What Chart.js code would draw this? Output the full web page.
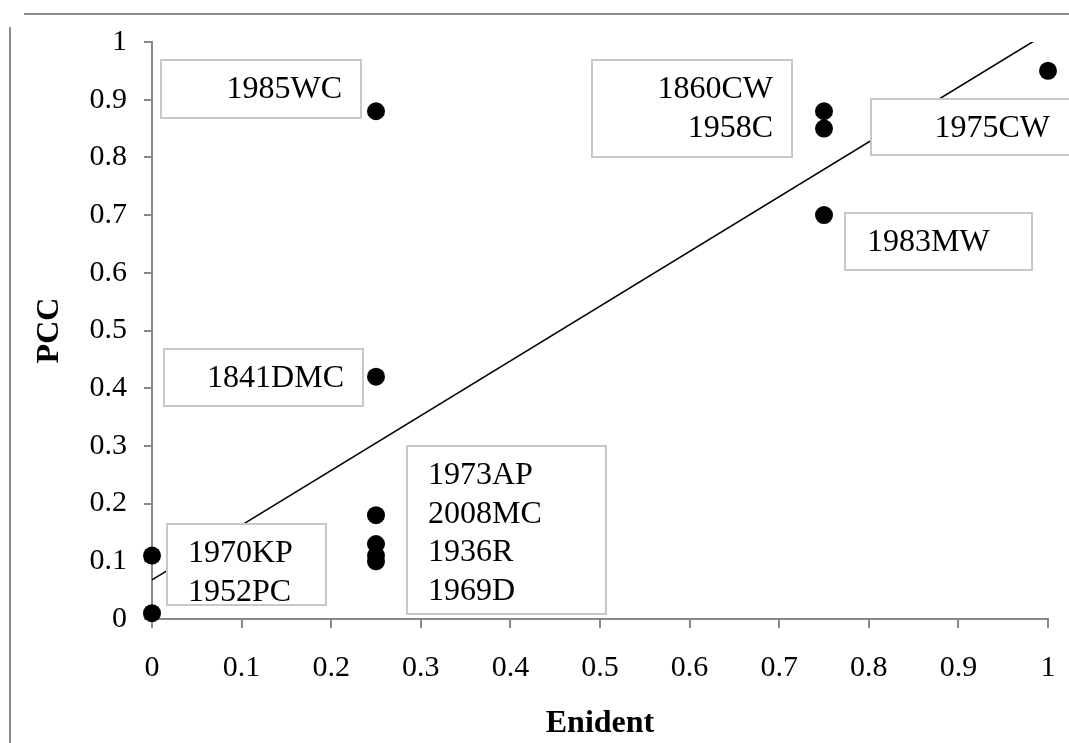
<!DOCTYPE html>
<html>
<head>
<meta charset="utf-8">
<script src="https://cdn.jsdelivr.net/npm/chart.js@4.4.1/dist/chart.umd.min.js"></script>
<style>
    html, body { margin: 0; padding: 0; background: #fff; }
    #wrap { width: 1069px; height: 743px; }
</style>
</head>
<body>
<div id="wrap"><canvas id="pccChart" width="1069" height="743"></canvas></div>
<script>
// data
const enident = [0, 0, 0.25, 0.25, 0.25, 0.25, 0.25, 0.25, 0.75, 0.75, 0.75, 1];
const pcc = [0.11, 0.01, 0.88, 0.42, 0.18, 0.13, 0.11, 0.10, 0.88, 0.85, 0.70, 0.95];
const names = ['1970KP', '1952PC', '1985WC', '1841DMC', '1973AP', '2008MC', '1936R', '1969D', '1860CW', '1958C', '1983MW', '1975CW'];
const xTickLabels = ['0', '0.1', '0.2', '0.3', '0.4', '0.5', '0.6', '0.7', '0.8', '0.9', '1'];
const yTickLabels = ['0', '0.1', '0.2', '0.3', '0.4', '0.5', '0.6', '0.7', '0.8', '0.9', '1'];

const serif = '"Liberation Serif", "Times New Roman", serif';
const axisGray = '#898989';

// linear trendline (least squares) through the points
const n = enident.length;
const mx = enident.reduce((a, b) => a + b, 0) / n;
const my = pcc.reduce((a, b) => a + b, 0) / n;
let sxy = 0, sxx = 0;
for (let i = 0; i < n; i++) {
    sxy += (enident[i] - mx) * (pcc[i] - my);
    sxx += (enident[i] - mx) * (enident[i] - mx);
}
const slope = sxy / sxx;
const intercept = my - slope * mx;
const trend = [0, 1].map(x => ({ x: x, y: intercept + slope * x }));

// label callouts: which names go in a box, anchored on one point (pixel offsets)
const callouts = [
    { members: [2], anchor: 2, dx: -215, dy: -51, w: 200, h: 58, align: 'right', pad: 19 },
    { members: [3], anchor: 3, dx: -212, dy: -28, w: 199, h: 57, align: 'right', pad: 19 },
    { members: [8, 9], anchor: 8, dx: -232, dy: -51, w: 200, h: 97, align: 'right', pad: 19 },
    { members: [11], anchor: 11, dx: -177, dy: 28, w: 206, h: 56, align: 'right', pad: 27 },
    { members: [10], anchor: 10, dx: 21, dy: -2, w: 187, h: 57, align: 'left', pad: 22 },
    { members: [4, 5, 6, 7], anchor: 4, dx: 31, dy: -69, w: 199, h: 168, align: 'left', pad: 21 },
    { members: [0, 1], anchor: 0, dx: 15, dy: -32, w: 159, h: 81, align: 'left', pad: 21 }
];

const framePlugin = {
    id: 'frame',
    beforeDraw(chart) {
        const c = chart.ctx;
        c.save();
        c.strokeStyle = '#8c8c8c';
        c.lineWidth = 2;
        c.beginPath();
        c.moveTo(24, 14);
        c.lineTo(chart.width, 14);
        c.moveTo(10, 27);
        c.lineTo(10, chart.height);
        c.stroke();
        c.restore();
    }
};

const calloutPlugin = {
    id: 'callouts',
    afterDatasetsDraw(chart) {
        const c = chart.ctx;
        const xs = chart.scales.x, ys = chart.scales.y;
        c.save();
        c.font = '32px ' + serif;
        c.textBaseline = 'middle';
        callouts.forEach(function (box) {
            const px = xs.getPixelForValue(enident[box.anchor]);
            const py = ys.getPixelForValue(pcc[box.anchor]);
            const left = Math.round(px + box.dx);
            const top = Math.round(py + box.dy);
            c.fillStyle = '#fff';
            c.fillRect(left, top, box.w, box.h);
            c.strokeStyle = '#c8c8c8';
            c.lineWidth = 2;
            c.strokeRect(left, top, box.w, box.h);
            c.fillStyle = '#000';
            c.textAlign = box.align;
            const tx = box.align === 'right' ? left + box.w - box.pad : left + box.pad;
            box.members.forEach(function (idx, k) {
                c.fillText(names[idx], tx, top + 30 + k * 38.5);
            });
        });
        c.restore();
    }
};

const ctx = document.getElementById('pccChart').getContext('2d');
const pccChart = new Chart(ctx, {
    type: 'scatter',
    data: {
        datasets: [{
            label: 'PCC',
            data: enident.map((x, i) => ({ x: x, y: pcc[i] })),
            backgroundColor: '#000',
            borderWidth: 0,
            pointRadius: 9,
            clip: false
        }, {
            label: 'Trend',
            type: 'line',
            data: trend,
            borderColor: '#000',
            borderWidth: 1.6,
            pointRadius: 0,
            fill: false
        }]
    },
    options: {
        responsive: false,
        animation: false,
        layout: {
            padding: { left: 0, top: 42, right: 21, bottom: 0 }
        },
        plugins: {
            legend: { display: false },
            tooltip: { enabled: false }
        },
        scales: {
            x: {
                type: 'linear',
                min: 0,
                max: 1,
                afterFit: function (scale) {
                    scale.height = 124;
                    scale.paddingLeft = 0;
                    scale.paddingRight = 0;
                },
                ticks: {
                    stepSize: 0.1,
                    padding: 22,
                    color: '#000',
                    font: { family: serif, size: 30 },
                    callback: function (value, index) { return xTickLabels[index]; }
                },
                grid: { drawOnChartArea: false, tickLength: 9, color: axisGray, lineWidth: 2 },
                border: { color: axisGray, width: 2 },
                title: {
                    display: true,
                    text: 'Enident',
                    color: '#000',
                    font: { family: serif, size: 32, weight: 'bold' },
                    padding: { top: 0, bottom: 0 }
                }
            },
            y: {
                type: 'linear',
                min: 0,
                max: 1,
                afterFit: function (scale) {
                    scale.width = 152;
                    scale.paddingTop = 0;
                    scale.paddingBottom = 0;
                },
                ticks: {
                    stepSize: 0.1,
                    padding: 17,
                    color: '#000',
                    font: { family: serif, size: 30 },
                    callback: function (value, index) { return yTickLabels[index]; }
                },
                grid: { drawOnChartArea: false, tickLength: 8, color: axisGray, lineWidth: 2 },
                border: { color: axisGray, width: 2 },
                title: {
                    display: true,
                    text: 'PCC',
                    color: '#000',
                    font: { family: serif, size: 32, weight: 'bold' },
                    padding: { top: 31, bottom: 0 }
                }
            }
        }
    },
    plugins: [framePlugin, calloutPlugin]
});
</script>
</body>
</html>
